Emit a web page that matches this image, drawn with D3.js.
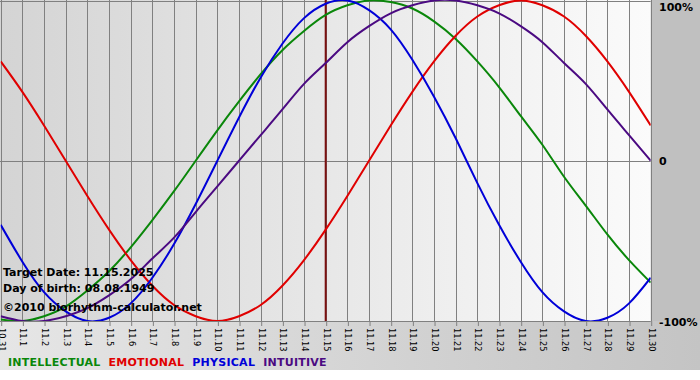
<!DOCTYPE html>
<html>
<head>
<meta charset="utf-8">
<script src="https://cdn.jsdelivr.net/npm/d3@7"></script>
<style>
  html, body { margin: 0; padding: 0; background: #ffffff; }
  svg { display: block; }
</style>
</head>
<body>
<svg id="chart" width="700" height="380"></svg>
<script>
// ---- data ----
const days = ["10.31","11.1","11.2","11.3","11.4","11.5","11.6","11.7","11.8","11.9","11.10",
  "11.11","11.12","11.13","11.14","11.15","11.16","11.17","11.18","11.19","11.20",
  "11.21","11.22","11.23","11.24","11.25","11.26","11.27","11.28","11.29","11.30"];

const intellectual = [-0.99,-1.00,-0.97,-0.91,-0.81,-0.69,-0.54,-0.37,-0.19,0.00,0.19,
  0.37,0.54,0.69,0.81,0.91,0.97,1.00,0.99,0.95,0.87,0.76,0.62,0.46,0.28,0.10,-0.10,
  -0.28,-0.46,-0.62,-0.76];
const emotional = [0.62,0.43,0.22,0.00,-0.22,-0.43,-0.62,-0.78,-0.90,-0.97,-1.00,
  -0.97,-0.90,-0.78,-0.62,-0.43,-0.22,0.00,0.22,0.43,0.62,0.78,0.90,0.97,1.00,0.97,
  0.90,0.78,0.62,0.43,0.22];
const physical = [-0.40,-0.63,-0.82,-0.94,-1.00,-0.98,-0.89,-0.73,-0.52,-0.27,0.00,
  0.27,0.52,0.73,0.89,0.98,1.00,0.94,0.82,0.63,0.40,0.14,-0.14,-0.40,-0.63,-0.82,
  -0.94,-1.00,-0.98,-0.89,-0.73];
const intuitive = [-0.97,-1.00,-1.00,-0.97,-0.92,-0.84,-0.74,-0.61,-0.48,-0.32,-0.16,
  0.00,0.16,0.32,0.48,0.61,0.74,0.84,0.92,0.97,1.00,1.00,0.97,0.92,0.84,0.74,0.61,
  0.48,0.32,0.16,0.00];

const seriesNames = ["INTELLECTUAL","EMOTIONAL","PHYSICAL","INTUITIVE"];
const seriesColors = ["#0a870a","#e00000","#0000d8","#4b0a82"];
const yTickValues = [1, 0, -1];
const yTickLabels = ["100%", "0", "-100%"];
const targetIndex = 15;
const infoLines = ["Target Date: 11.15.2025", "Day of birth: 08.08.1949", "©2010 biorhythm-calculator.net"];

// ---- layout ----
const svg = d3.select("#chart");
const W = 700, H = 380;
const plotL = 0.7, plotR = 650.7, plotT = 0.5, plotB = 321;

const defs = svg.append("defs");
const g1 = defs.append("linearGradient").attr("id","plotBg").attr("x1","0").attr("x2","1").attr("y1","0").attr("y2","0");
g1.append("stop").attr("offset","0").attr("stop-color","#d4d4d4");
g1.append("stop").attr("offset","1").attr("stop-color","#fbfbfb");
const g2 = defs.append("linearGradient").attr("id","botBg").attr("x1","0").attr("x2","1").attr("y1","0").attr("y2","0");
g2.append("stop").attr("offset","0").attr("stop-color","#e6e6e6");
g2.append("stop").attr("offset","1").attr("stop-color","#c4c4c4");
defs.append("clipPath").attr("id","clip").append("rect")
  .attr("x", plotL).attr("y", 0).attr("width", plotR - plotL).attr("height", plotB);

// backgrounds
svg.append("rect").attr("x",0).attr("y",0).attr("width",W).attr("height",370).attr("fill","url(#botBg)");
svg.append("rect").attr("x",650).attr("y",0).attr("width",50).attr("height",plotB).attr("fill","#c0c0c0");
svg.append("rect").attr("x",0).attr("y",0).attr("width",plotR).attr("height",plotB).attr("fill","url(#plotBg)");

const x = d3.scaleLinear().domain([0, days.length - 1]).range([plotL, plotR]);
const y = d3.scaleLinear().domain([-1, 1]).range([plotB, plotT]);

// vertical grid lines
svg.append("g").selectAll("line").data(days).join("line")
  .attr("x1", (d,i) => Math.round(x(i)) + 0.5).attr("x2", (d,i) => Math.round(x(i)) + 0.5)
  .attr("y1", 0).attr("y2", plotB)
  .attr("stroke", "#808080").attr("stroke-width", 1);
// top, zero, bottom lines
svg.append("g").selectAll("line").data(yTickValues).join("line")
  .attr("x1", 0).attr("x2", plotR)
  .attr("y1", d => Math.round(y(d)) + 0.5).attr("y2", d => Math.round(y(d)) + 0.5)
  .attr("stroke", "#808080").attr("stroke-width", 1);

// x axis ticks + labels
const xAxis = d3.axisBottom(x)
  .tickValues(d3.range(days.length))
  .tickFormat(i => days[i])
  .tickSize(5).tickPadding(3);
const ax = svg.append("g").attr("transform", `translate(0.5,${plotB})`).call(xAxis);
ax.select(".domain").remove();
ax.selectAll(".tick line").attr("stroke", "#808080");
ax.selectAll(".tick text")
  .attr("transform", "translate(0,7) rotate(90)")
  .attr("x", 0).attr("y", 0).attr("dy", "0.35em")
  .attr("text-anchor", "start")
  .attr("font-family", "'DejaVu Sans', Verdana, sans-serif")
  .attr("font-size", 8.2).attr("fill", "#000");

// y labels on right
svg.append("g").selectAll("text").data(yTickValues).join("text")
  .attr("x", 659)
  .attr("y", d => d === 1 ? 11 : d === 0 ? 165 : 326)
  .attr("font-family", "'DejaVu Sans', Verdana, sans-serif")
  .attr("font-weight", "bold").attr("font-size", 11).attr("fill", "#000")
  .text((d,i) => yTickLabels[i]);

// target day marker
svg.append("line")
  .attr("x1", x(targetIndex)).attr("x2", x(targetIndex))
  .attr("y1", 0).attr("y2", plotB)
  .attr("stroke", "#7a1010").attr("stroke-width", 2);

// curves
const allSeries = [intellectual, emotional, physical, intuitive];
const line = d3.line().x((d,i) => x(i)).y(d => y(d)).curve(d3.curveNatural);
svg.append("g").attr("clip-path", "url(#clip)").selectAll("path").data(allSeries).join("path")
  .attr("d", line).attr("fill", "none")
  .attr("stroke", (d,i) => seriesColors[i]).attr("stroke-width", 2);

// info text
svg.append("g").selectAll("text").data(infoLines).join("text")
  .attr("x", 3).attr("y", (d,i) => [276, 292, 311][i])
  .attr("font-family", "'DejaVu Sans', Verdana, sans-serif")
  .attr("font-weight", "bold").attr("font-size", 11).attr("fill", "#000")
  .text(d => d);

// legend
let lx = 8;
seriesNames.forEach((n, i) => {
  const t = svg.append("text").attr("x", lx).attr("y", 366)
    .attr("font-family", "'DejaVu Sans', Verdana, sans-serif")
    .attr("font-weight", "bold").attr("font-size", 11)
    .attr("letter-spacing", 0.25)
    .attr("fill", seriesColors[i]).text(n);
  lx += t.node().getComputedTextLength() + 8;
});
</script>
</body>
</html>
